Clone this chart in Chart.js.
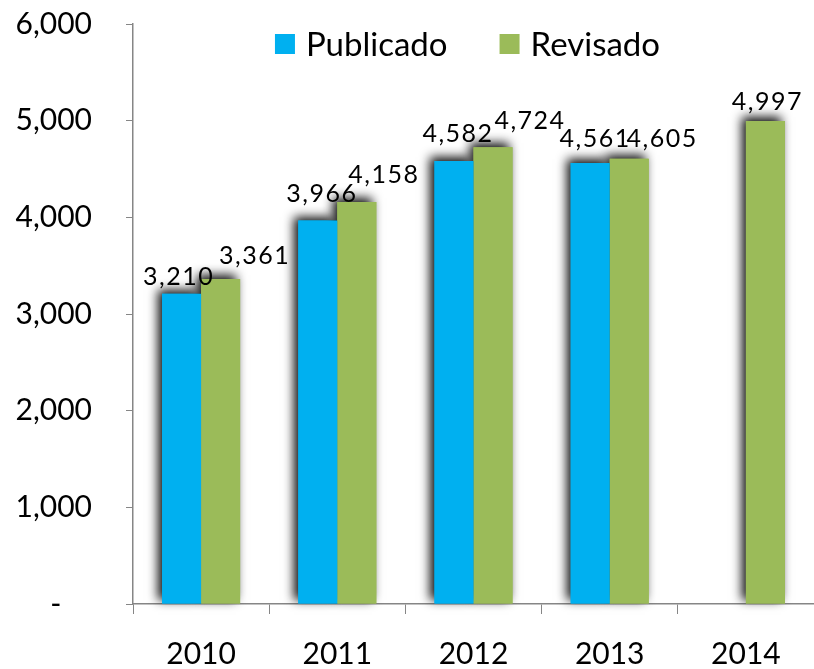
<!DOCTYPE html>
<html>
<head>
<meta charset="utf-8">
<script src="https://cdn.jsdelivr.net/npm/chart.js@4"></script>
<style>
  html, body { margin: 0; padding: 0; background: #fff; }
  #wrap { width: 814px; height: 669px; }
</style>
</head>
<body>
<div id="wrap"><canvas id="c" width="814" height="669"></canvas></div>
<script>
// ---- data ----
const categories = ['2010', '2011', '2012', '2013', '2014'];
const publicado = [3210, 3966, 4582, 4561, null];
const revisado  = [3361, 4158, 4724, 4605, 4997];
const yTicks = [0, 1000, 2000, 3000, 4000, 5000, 6000];

// ---- label nudges (style only) ----
const labelDx = [[-3, 4, 4, 5, 0], [34, 27, 37, 33, 2]];
const labelDy = [[9, 19, 19, 16, 0], [15, 19, 18, 12, 11]];

const FONT = 'Lato, "Open Sans", "DejaVu Sans", sans-serif';

const shadowPlugin = {
  id: 'barShadow',
  beforeDatasetsDraw(chart) {
    const ctx = chart.ctx;
    ctx.save();
    ctx.shadowColor = 'rgba(0,0,0,0.95)';
    ctx.shadowBlur = 10;
    ctx.shadowOffsetX = -4;
    ctx.shadowOffsetY = -4;
    chart.data.datasets.forEach((ds, i) => {
      const meta = chart.getDatasetMeta(i);
      meta.data.forEach((el, j) => {
        if (ds.data[j] == null) return;
        el.draw(ctx);
      });
    });
    ctx.restore();
  }
};

const labelPlugin = {
  id: 'valueLabels',
  afterDatasetsDraw(chart) {
    const ctx = chart.ctx;
    ctx.save();
    ctx.font = '25px ' + FONT;
    ctx.fillStyle = '#000';
    ctx.textAlign = 'center';
    ctx.textBaseline = 'alphabetic';
    try { ctx.letterSpacing = '1.5px'; } catch (e) {}
    chart.data.datasets.forEach((ds, i) => {
      const meta = chart.getDatasetMeta(i);
      meta.data.forEach((el, j) => {
        const v = ds.data[j];
        if (v == null) return;
        ctx.fillText(v.toLocaleString('en-US'), el.x + labelDx[i][j], el.y - labelDy[i][j]);
      });
    });
    ctx.restore();
  }
};

const legendPlugin = {
  id: 'topLegend',
  afterDraw(chart) {
    const ctx = chart.ctx;
    ctx.save();
    ctx.font = '33px ' + FONT;
    ctx.fillStyle = '#000';
    ctx.textBaseline = 'middle';
    const box = 20, gapText = 11, gapItem = 52;
    const items = chart.data.datasets.map(ds => ({ text: ds.label, color: ds.backgroundColor, w: ctx.measureText(ds.label).width }));
    const total = items.reduce((s, it) => s + box + gapText + it.w, 0) + gapItem * (items.length - 1);
    const area = chart.chartArea;
    let x = (area.left + area.right) / 2 - total / 2 - 6;
    const yc = area.top + 20;
    items.forEach(it => {
      ctx.fillStyle = it.color;
      ctx.fillRect(x, yc - box / 2, box, box);
      ctx.fillStyle = '#000';
      ctx.fillText(it.text, x + box + gapText, yc + 1);
      x += box + gapText + it.w + gapItem;
    });
    ctx.restore();
  }
};

new Chart(document.getElementById('c'), {
  type: 'bar',
  data: {
    labels: categories,
    datasets: [
      { label: 'Publicado', data: publicado, backgroundColor: '#00B0F0', borderWidth: 0 },
      { label: 'Revisado', data: revisado, backgroundColor: '#9BBB59', borderWidth: 0 }
    ]
  },
  options: {
    responsive: false,
    animation: false,
    devicePixelRatio: 1,
    layout: { padding: { top: 0, right: 0, left: 0, bottom: 0 } },
    datasets: { bar: { categoryPercentage: 0.573, barPercentage: 1.0 } },
    plugins: {
      legend: { display: false },
      tooltip: { enabled: false }
    },
    scales: {
      x: {
        grid: {
          display: true,
          drawOnChartArea: false,
          drawTicks: true,
          tickLength: 10,
          color: '#868686',
          offset: true
        },
        border: { display: true, color: '#868686', width: 1.5 },
        ticks: {
          font: { family: FONT, size: 30 },
          color: '#000',
          padding: 22,
          maxRotation: 0
        },
        afterFit(scale) { scale.height = 65; scale.paddingLeft = 0; scale.paddingRight = 0; }
      },
      y: {
        min: 0,
        max: 6000,
        afterBuildTicks(scale) { scale.ticks = yTicks.map(v => ({ value: v })); },
        grid: {
          display: true,
          drawOnChartArea: false,
          drawTicks: true,
          tickLength: 7,
          color: '#868686'
        },
        border: { display: true, color: '#868686', width: 1.5 },
        ticks: {
          font: { family: FONT, size: 30 },
          color: '#000',
          padding: 34,
          callback(v) { return v === 0 ? '-    ' : v.toLocaleString('en-US'); }
        },
        afterFit(scale) { scale.width = 133; scale.paddingTop = 24; scale.paddingBottom = 0; }
      }
    }
  },
  plugins: [shadowPlugin, labelPlugin, legendPlugin]
});
</script>
</body>
</html>
